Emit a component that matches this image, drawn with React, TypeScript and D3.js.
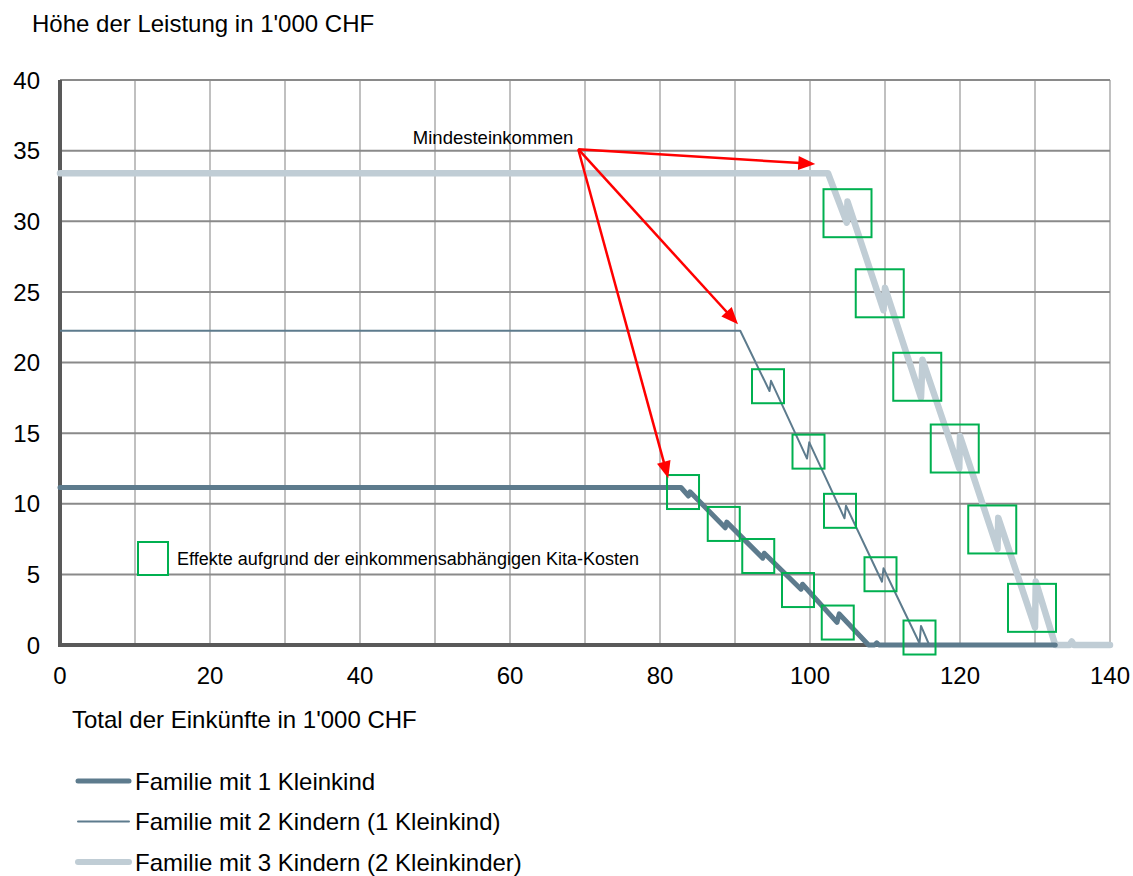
import React from "react";
import * as d3 from "d3";

// Benefit amount (1'000 CHF) as a function of total income (1'000 CHF)
const familyOneToddler: [number, number][] = [
  [0, 11.15], [82.8, 11.15], [83.8, 10.55], [84.0, 10.85], [88.7, 8.3], [88.9, 8.7],
  [93.7, 6.15], [93.9, 6.5], [98.8, 3.95], [99.0, 4.3], [103.6, 1.6], [103.9, 2.2],
  [107.8, 0], [108.6, 0], [108.9, 0.15], [109.2, 0], [132.7, 0],
];
const familyTwoChildren: [number, number][] = [
  [0, 22.25], [90.7, 22.25], [94.6, 17.98], [94.8, 18.7], [99.6, 13.2], [99.9, 14.35],
  [104.6, 8.97], [104.8, 9.86], [109.6, 4.48], [109.8, 5.43], [114.6, 0.12], [114.8, 1.35],
  [115.9, 0], [120, 0],
];
const familyThreeChildren: [number, number][] = [
  [0, 33.4], [102.4, 33.4], [104.9, 29.9], [105.0, 31.4], [109.8, 23.7], [110.0, 25.3],
  [114.8, 17.5], [115.0, 20.2], [119.9, 12.5], [120.0, 14.8], [125.0, 6.8], [125.1, 9.0],
  [130.0, 1.25], [130.1, 4.5], [132.7, 0], [134.6, 0], [134.9, 0.25], [135.2, 0], [140, 0],
];

const seriesNames = [
  "Familie mit 1 Kleinkind",
  "Familie mit 2 Kindern (1 Kleinkind)",
  "Familie mit 3 Kindern (2 Kleinkinder)",
];

const xTicks = [0, 20, 40, 60, 80, 100, 120, 140];
const xGrid = [10, 20, 30, 40, 50, 60, 70, 80, 90, 100, 110, 120, 130, 140];
const yTicks = [0, 5, 10, 15, 20, 25, 30, 35, 40];

// Highlight boxes around the childcare-cost steps: [income, benefit]
const boxesOneToddler: [number, number][] = [
  [83.07, 10.83], [88.5, 8.57], [93.1, 6.3], [98.4, 3.89], [103.7, 1.59],
];
const boxesTwoChildren: [number, number][] = [
  [94.4, 18.32], [99.8, 13.69], [104.0, 9.5], [109.4, 5.01], [114.6, 0.53],
];
const boxesThreeChildren: [number, number][] = [
  [105.0, 30.57], [109.3, 24.9], [114.3, 18.99], [119.3, 13.91], [124.3, 8.18], [129.6, 2.63],
];

// "Mindesteinkommen" arrows
const arrowOrigin: [number, number] = [69.1, 35.1];
const arrowTargets: [number, number][] = [[100.7, 34.05], [90.4, 22.7], [81.1, 11.8]];

const FONT = "'Liberation Sans', Arial, Helvetica, sans-serif";
const DARK = "#5d7b8d";
const LIGHT = "#c0cdd5";
const GREEN = "#00b050";
const RED = "#ff0000";

export default function App() {
  const W = 1133;
  const H = 876;
  const x = d3.scaleLinear().domain([0, 140]).range([60, 1110]);
  const y = d3.scaleLinear().domain([0, 40]).range([645, 80]);
  const line = d3
    .line<[number, number]>()
    .x((d) => x(d[0]))
    .y((d) => y(d[1]));

  const arrow = (target: [number, number], i: number) => {
    const x0 = x(arrowOrigin[0]);
    const y0 = y(arrowOrigin[1]);
    const x1 = x(target[0]);
    const y1 = y(target[1]);
    const len = Math.hypot(x1 - x0, y1 - y0);
    const ux = (x1 - x0) / len;
    const uy = (y1 - y0) / len;
    const L = 17;
    const hw = 7;
    const bx = x1 - ux * L;
    const by = y1 - uy * L;
    const pts = [
      [x1, y1],
      [bx - uy * hw, by + ux * hw],
      [bx + uy * hw, by - ux * hw],
    ];
    return (
      <g key={i}>
        <line x1={x0} y1={y0} x2={bx + ux * 2} y2={by + uy * 2} stroke={RED} strokeWidth={2.5} />
        <polygon points={pts.map((p) => p.join(",")).join(" ")} fill={RED} />
      </g>
    );
  };

  const boxes = (list: [number, number][], w: number, h: number, key: string) =>
    list.map((b, i) => (
      <rect
        key={key + i}
        x={x(b[0]) - w / 2}
        y={y(b[1]) - h / 2}
        width={w}
        height={h}
        fill="none"
        stroke={GREEN}
        strokeWidth={2}
      />
    ));

  return (
    <svg
      width={W}
      height={H}
      style={{ position: "absolute", left: 0, top: 0, background: "#fff" }}
      fontFamily={FONT}
    >
      <rect width={W} height={H} fill="#fff" />
      <text x={32} y={32} fontSize={24} fill="#000">
        Höhe der Leistung in 1'000 CHF
      </text>

      {/* grid */}
      {xGrid.map((t) => (
        <line key={"vx" + t} x1={x(t)} x2={x(t)} y1={y(40)} y2={y(0)} stroke="#c0c0c0" strokeWidth={2} />
      ))}
      {yTicks.filter((t) => t > 0).map((t) => (
        <line key={"hy" + t} x1={x(0)} x2={x(140)} y1={y(t)} y2={y(t)} stroke="#8a8a8a" strokeWidth={2} />
      ))}

      {/* axes */}
      <line x1={x(0)} x2={x(0)} y1={y(40)} y2={y(0) + 2} stroke="#595959" strokeWidth={4} />
      <line x1={x(0) - 2} x2={x(140)} y1={y(0)} y2={y(0)} stroke="#595959" strokeWidth={4} />

      {yTicks.map((t) => (
        <text key={"yl" + t} x={40} y={y(t)} dy="0.36em" textAnchor="end" fontSize={24} fill="#000">
          {t}
        </text>
      ))}
      {xTicks.map((t) => (
        <text key={"xl" + t} x={x(t)} y={684} textAnchor="middle" fontSize={24} fill="#000">
          {t}
        </text>
      ))}
      <text x={72} y={728} fontSize={24} fill="#000">
        Total der Einkünfte in 1'000 CHF
      </text>

      {/* series */}
      <path d={line(familyThreeChildren) ?? ""} fill="none" stroke={LIGHT} strokeWidth={6.5} strokeLinejoin="round" strokeLinecap="round" />
      <path d={line(familyTwoChildren) ?? ""} fill="none" stroke={DARK} strokeWidth={2} strokeLinejoin="round" />
      <path d={line(familyOneToddler) ?? ""} fill="none" stroke={DARK} strokeWidth={5} strokeLinejoin="round" strokeLinecap="round" />

      {/* annotation boxes */}
      {boxes(boxesOneToddler, 32, 34, "a")}
      {boxes(boxesTwoChildren, 32, 34, "b")}
      {boxes(boxesThreeChildren, 48, 48, "c")}

      {/* arrows */}
      {arrowTargets.map(arrow)}
      <text x={x(arrowOrigin[0]) - 5} y={144} textAnchor="end" fontSize={18.5} fill="#000">
        Mindesteinkommen
      </text>

      {/* box legend */}
      <rect x={138} y={542} width={30} height={33} fill="#fff" stroke={GREEN} strokeWidth={2} />
      <text x={177} y={565} fontSize={18} fill="#000">
        Effekte aufgrund der einkommensabhängigen Kita-Kosten
      </text>

      {/* series legend */}
      {seriesNames.map((name, i) => {
        const ly = 781 + i * 40.5;
        const style = [
          { stroke: DARK, w: 5 },
          { stroke: DARK, w: 2 },
          { stroke: LIGHT, w: 6 },
        ][i];
        return (
          <g key={name}>
            <line x1={78} x2={129} y1={ly} y2={ly} stroke={style.stroke} strokeWidth={style.w} strokeLinecap="round" />
            <text x={135} y={ly} dy="0.36em" fontSize={24} fill="#000">
              {name}
            </text>
          </g>
        );
      })}
    </svg>
  );
}
